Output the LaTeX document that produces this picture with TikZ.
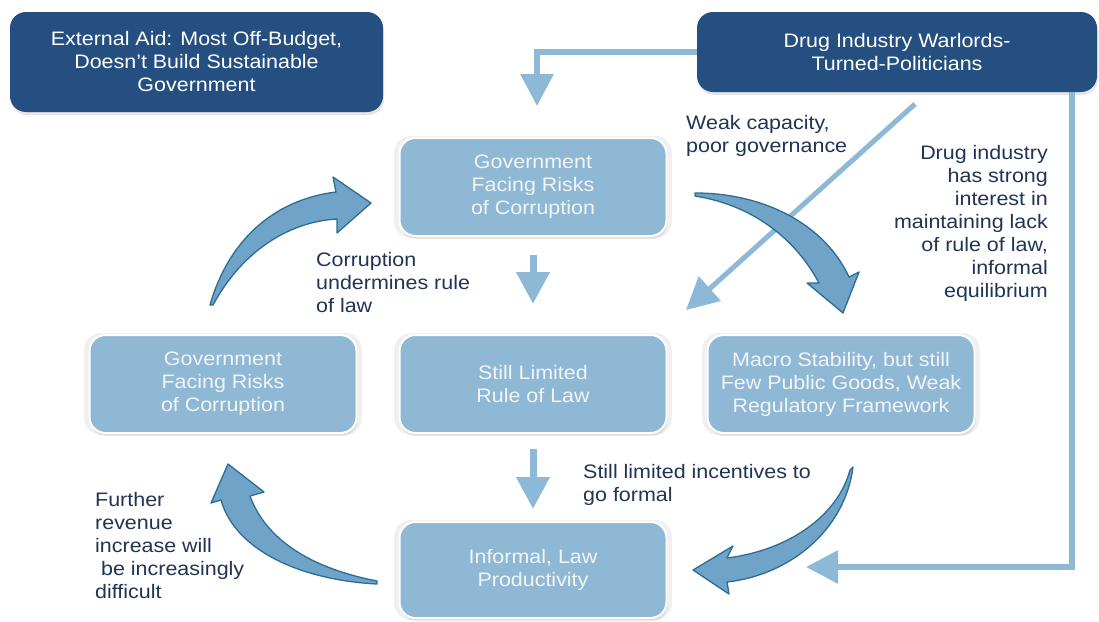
\documentclass[tikz,border=0pt]{standalone}
\usepackage{fontspec}
\setmainfont[FakeStretch=1.1]{Liberation Sans}
\usetikzlibrary{arrows.meta,shadows}
\definecolor{darkfill}{RGB}{37,79,128}
\definecolor{lightfill}{RGB}{143,184,213}
\definecolor{boxtext}{RGB}{242,245,248}
\definecolor{labeltext}{RGB}{33,52,86}
\definecolor{conncol}{RGB}{141,184,214}
\definecolor{arrowfill}{RGB}{111,163,200}
\definecolor{arrowline}{RGB}{45,108,148}
\begin{document}
\begin{tikzpicture}[x=1pt,y=-1pt,
  txt/.style={font=\fontsize{19.5}{23}\selectfont},
  darkbox/.style={txt, rounded corners=16pt, fill=darkfill, text=white, align=center,
    drop shadow={shadow xshift=1pt, shadow yshift=-3pt, opacity=0.2}},
  lightbox/.style={txt, rounded corners=16pt, fill=lightfill, draw=white, line width=2pt,
    text=boxtext, align=center, minimum width=267pt, minimum height=98pt,
    general shadow={shadow scale=1.04, fill=black, opacity=0.06},
    drop shadow={shadow xshift=1pt, shadow yshift=-3pt, opacity=0.18}},
  conn/.style={draw=conncol, line width=6pt, -{Triangle[width=32pt,length=32pt]}},
  lbl/.style={txt, text=labeltext, inner sep=0pt},
  blockarrow/.style={fill=arrowfill, draw=arrowline, line width=1.3pt, line join=round}]
\useasboundingbox[fill=white] (0,0) rectangle (1099,621);

% nodes
\node[darkbox, minimum width=373pt, minimum height=100pt] (ext) at (196.5,62)
  {External Aid: Most Off-Budget,\\Doesn’t Build Sustainable\\Government};
\node[darkbox, minimum width=400pt, minimum height=80pt] (drug) at (897,52)
  {Drug Industry Warlords-\\Turned-Politicians};
\node[lightbox] (gov1) at (533,187) {Government\\Facing Risks\\of Corruption};
\node[lightbox] (rol) at (533,384) {Still Limited\\Rule of Law};
\node[lightbox] (macro) at (841,384) {Macro Stability, but still\\Few Public Goods, Weak\\Regulatory Framework};
\node[lightbox] (gov2) at (223,384) {Government\\Facing Risks\\of Corruption};
\node[lightbox, minimum height=96pt] (inf) at (533,570) {Informal, Law\\Productivity};

% coordinates for free ends
\coordinate (topend) at (537,106);
\coordinate (rightend) at (806,567);
\coordinate (diagstart) at (915,104);
\coordinate (diagend) at (686,310);

% straight connectors
\draw[conn] (drug.west) -| (topend);
\draw[conn] ([xshift=-25pt]drug.south east) |- (rightend);
\draw[conn, line width=5pt] (diagstart) -- (diagend);
\draw[conn, line width=7pt, shorten <=18pt, shorten >=30pt] (gov1) -- (rol);
\draw[conn, line width=7pt, shorten <=15pt, shorten >=12pt] (rol) -- (inf);

% curved block arrows
\draw[blockarrow] (210,305) .. controls (228,242) and (272,200) .. (336,192)
  -- (333,177) -- (371,203) -- (337,233) -- (337,219)
  .. controls (285,222) and (240,255) .. (213,305) -- cycle;
\draw[blockarrow] (695,193) .. controls (765,193) and (825,225) .. (849,277)
  -- (859,272) -- (843,313) -- (807,283) -- (819,283)
  .. controls (795,238) and (752,205) .. (695,196) -- cycle;
\draw[blockarrow] (853,467) .. controls (845,530) and (790,575) .. (727,582)
  -- (729,594) -- (693,570) -- (733,546) -- (727,558)
  .. controls (790,550) and (838,515) .. (850,470) -- cycle;
\draw[blockarrow] (377,581) .. controls (320,570) and (268,545) .. (250,496)
  -- (264,492) -- (228,464) -- (211,503) -- (221,500)
  .. controls (235,550) and (300,580) .. (377,584) -- cycle;

% labels
\node[lbl, anchor=north west, align=left] (lweak) at (686,115) {Weak capacity,\\poor governance};
\node[lbl, anchor=north east, align=right] (ldrug) at (1048,145)
  {Drug industry\\has strong\\interest in\\maintaining lack\\of rule of law,\\informal\\equilibrium};
\node[lbl, anchor=north west, align=left] (lcorr) at (316,252) {Corruption\\undermines rule\\of law};
\node[lbl, anchor=north west, align=left] (lstill) at (583,464) {Still limited incentives to\\go formal};
\node[lbl, anchor=north west, align=left] (lfurther) at (95,492)
  {Further\\revenue\\increase will\\\ be increasingly\\difficult};
\end{tikzpicture}
\end{document}
